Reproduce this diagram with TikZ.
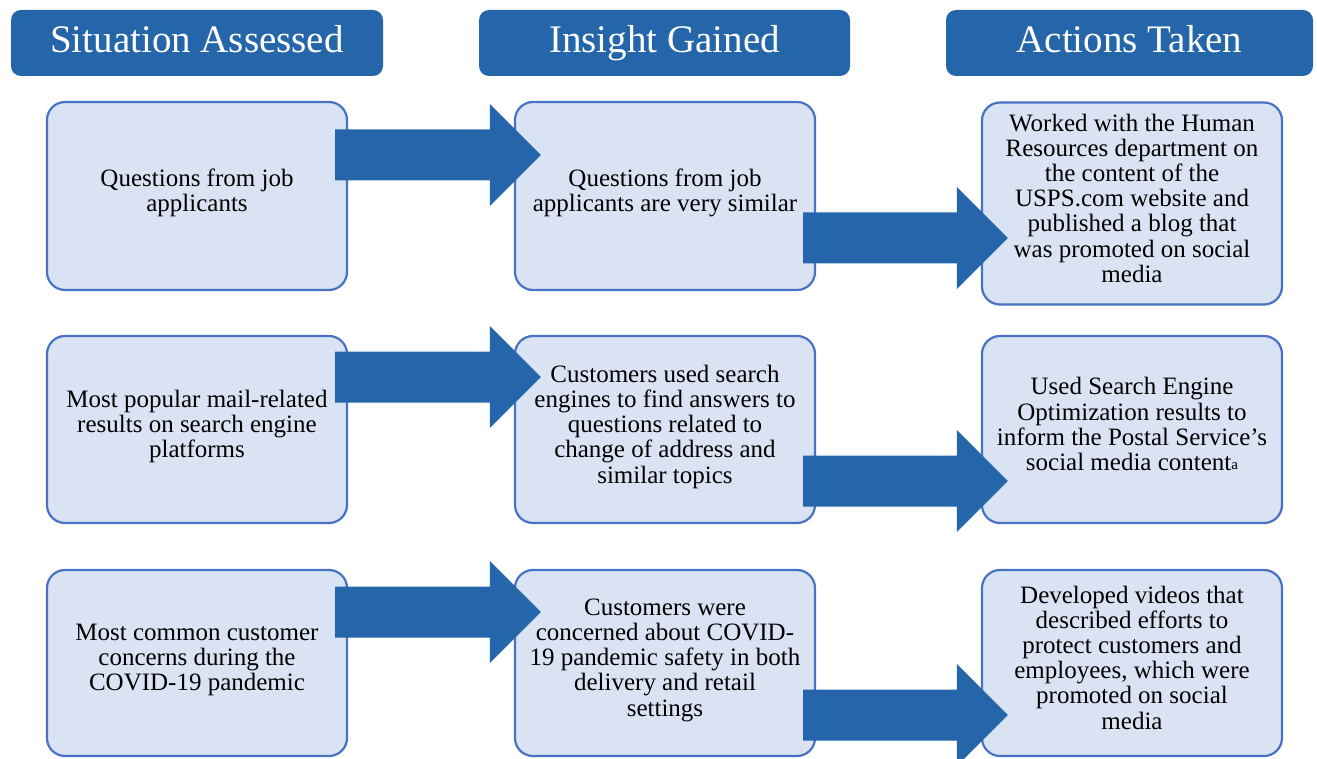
\documentclass[tikz,border=0pt]{standalone}
\usepackage{fontspec}
\setmainfont{Liberation Serif}
\usetikzlibrary{calc}

\definecolor{headblue}{RGB}{37,101,170}
\definecolor{cellline}{RGB}{72,114,196}
\definecolor{cellfill}{RGB}{218,227,243}

\tikzset{
  head/.style={fill=headblue, text=white, rounded corners=10pt, inner sep=0pt,
    minimum height=66pt, text height=28pt, text depth=9pt,
    font=\fontsize{39}{44}\selectfont},
  cell/.style={draw=cellline, line width=2.2pt, fill=cellfill, rounded corners=18pt,
    inner sep=0pt, minimum width=300pt, minimum height=187pt, align=center,
    text depth=11pt, font=\fontsize{25}{25.2}\selectfont},
  bigarrow/.style={fill=headblue}
}

% block arrow from #1 to #2, shaft centred at height #3
\newcommand{\blockarrow}[3]{%
  \fill[bigarrow] let \p1=(#1.east), \p2=(#2.west) in
    (\x1-13pt,-#3pt+25.5pt) -- (\x2-24pt,-#3pt+25.5pt) -- (\x2-24pt,-#3pt+51pt)
    -- (\x2+27pt,-#3pt) -- (\x2-24pt,-#3pt-51pt) -- (\x2-24pt,-#3pt-25.5pt)
    -- (\x1-13pt,-#3pt-25.5pt) -- cycle;}
\newcommand{\supa}{\raisebox{1pt}{\fontsize{15}{15}\selectfont a}}

\begin{document}
\begin{tikzpicture}[x=1pt, y=-1pt]
		\useasboundingbox (0,0) rectangle (1317,759);
		% headers
		\node[head, minimum width=372pt] (hsit) at (197,43) {Situation Assessed};
		\node[head, minimum width=371pt] (hins) at (664.5,43) {Insight Gained};
		\node[head, minimum width=367pt] (hact) at (1129.5,43) {Actions Taken};
		% first row
		\node[cell, minimum height=188pt] (sit1) at (197,196) {Questions from job\\applicants};
		\node[cell, minimum height=188pt] (ins1) at (665,196) {Questions from job\\applicants are very similar};
		\node[cell, minimum height=202pt] (act1) at (1132,203.5) {Worked with the Human\\Resources department on\\the content of the\\USPS.com website and\\published a blog that\\was promoted on social\\media};
		% second row
		\node[cell] (sit2) at (197,429.5) {Most popular mail-related\\results on search engine\\platforms};
		\node[cell] (ins2) at (665,429.5) {Customers used search\\engines to find answers to\\questions related to\\change of address and\\similar topics};
		\node[cell] (act2) at (1132,429.5) {Used Search Engine\\Optimization results to\\inform the Postal Service’s\\social media content\supa};
		% third row
		\node[cell, minimum height=186pt] (sit3) at (197,663) {Most common customer\\concerns during the\\COVID-19 pandemic};
		\node[cell, minimum height=186pt] (ins3) at (665,663) {Customers were\\concerned about COVID-\\19 pandemic safety in both\\delivery and retail\\settings};
		\node[cell, minimum height=186pt] (act3) at (1132,663) {Developed videos that\\described efforts to\\protect customers and\\employees, which were\\promoted on social\\media};
		% arrows
		\blockarrow{sit1}{ins1}{155}
		\blockarrow{ins1}{act1}{238}
		\blockarrow{sit2}{ins2}{377}
		\blockarrow{ins2}{act2}{481}
		\blockarrow{sit3}{ins3}{612}
		\blockarrow{ins3}{act3}{715}
\end{tikzpicture}
\end{document}
